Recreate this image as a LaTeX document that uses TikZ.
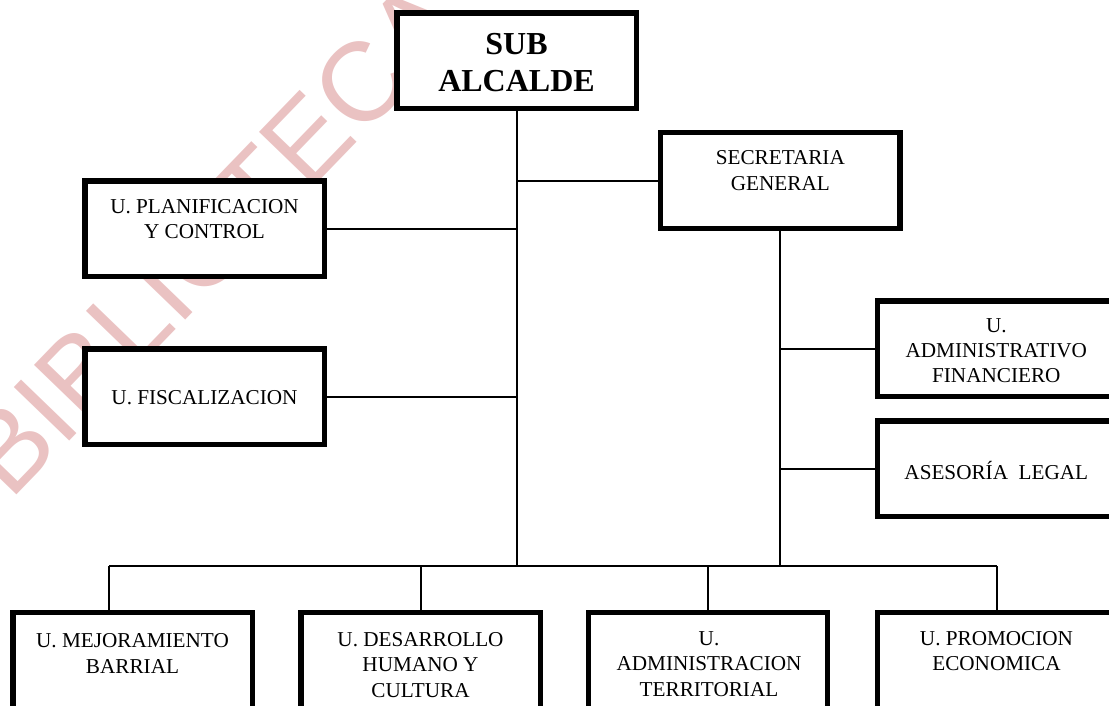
\documentclass[tikz,border=0pt]{standalone}
\usepackage{fontspec}
\setmainfont{Liberation Serif}
\newfontfamily\wmfont{Liberation Sans}
\usepackage{tikz}
\definecolor{wmpink}{RGB}{234,194,194}

\begin{document}
\begin{tikzpicture}[x=0.75pt,y=0.75pt,yscale=-1,xscale=1,
  unitbox/.style={draw, fill=white, line width=4.1pt, inner sep=0pt, minimum width=179.6pt, minimum height=71.8pt},
  unittext/.style={inner sep=0pt, align=center, font=\fontsize{15.9}{19}\selectfont},
  link/.style={line width=1.5pt}]

\useasboundingbox (0,0) rectangle (1109,706);
\clip (0,0) rectangle (1109,706);

% Watermark
\node [rotate=46, anchor=base west, inner sep=0pt, text=wmpink, font=\wmfont\fontsize{84}{84}\selectfont] (wm) at (10,502) {BIBLIOTECA};

%Shape: Rectangle [alcalde]
\node [unitbox] (alc) at (516.7,60.8) {};
%Shape: Rectangle [secretaria]
\node [unitbox] (sec) at (780.3,180.5) {};
%Shape: Rectangle [planificacion]
\node [unitbox] (plan) at (204.5,228.8) {};
%Shape: Rectangle [fiscalizacion]
\node [unitbox] (fisc) at (204.5,396.7) {};
%Shape: Rectangle [administrativo]
\node [unitbox] (adm) at (997,348.8) {};
%Shape: Rectangle [asesoria]
\node [unitbox] (ases) at (997,468.8) {};
%Shape: Rectangle [bottom row]
\node [unitbox] (mej) at (132.8,660.5) {};
\node [unitbox] (des) at (420.8,660.5) {};
\node [unitbox] (terr) at (708,660.5) {};
\node [unitbox] (prom) at (997,660.5) {};

% Text Node
\node [unittext, font=\bfseries\fontsize{24}{27.5}\selectfont] (alc-t) at (516.5,62.5) {SUB\\ALCALDE};
% Text Node
\node [unittext] (sec-t) at (780.3,170.7) {SECRETARIA\\GENERAL};
% Text Node
\node [unittext] (plan-t) at (204.5,219.2) {U. PLANIFICACION\\Y CONTROL};
% Text Node
\node [unittext] (fisc-t) at (204.5,397.5) {U. FISCALIZACION};
% Text Node
\node [unittext] (adm-t) at (996.3,350.8) {U.\\ADMINISTRATIVO\\FINANCIERO};
% Text Node
\node [unittext, anchor=base] (ases-t) at (996.3,479.3) {ASESORÍA\ \ LEGAL};
% Text Node
\node [unittext] (mej-t) at (132.5,653.6) {U. MEJORAMIENTO\\BARRIAL};
% Text Node
\node [unittext] (des-t) at (420.5,665) {U. DESARROLLO\\HUMANO Y\\CULTURA};
% Text Node
\node [unittext] (terr-t) at (709,664) {U.\\ADMINISTRACION\\TERRITORIAL};
% Text Node
\node [unittext] (prom-t) at (996.5,651) {U. PROMOCION\\ECONOMICA};

% Connectors
\coordinate (busL) at (109,566);
\draw [link] (busL) -- (prom.north |- busL);
\draw [link] (alc.south) -- (alc.south |- busL);
\draw [link] (sec.south) -- (sec.south |- busL);
\draw [link] (sec.west) -- (sec.west -| alc.south);
\draw [link] (plan.east) -- (plan.east -| alc.south);
\draw [link] (fisc.east) -- (fisc.east -| alc.south);
\draw [link] (adm.west) -- (adm.west -| sec.south);
\draw [link] (ases.west) -- (ases.west -| sec.south);
\draw [link] (busL) -- (busL |- mej.north);
\draw [link] (des.north) -- (des.north |- busL);
\draw [link] (terr.north) -- (terr.north |- busL);
\draw [link] (prom.north) -- (prom.north |- busL);

\end{tikzpicture}
\end{document}
